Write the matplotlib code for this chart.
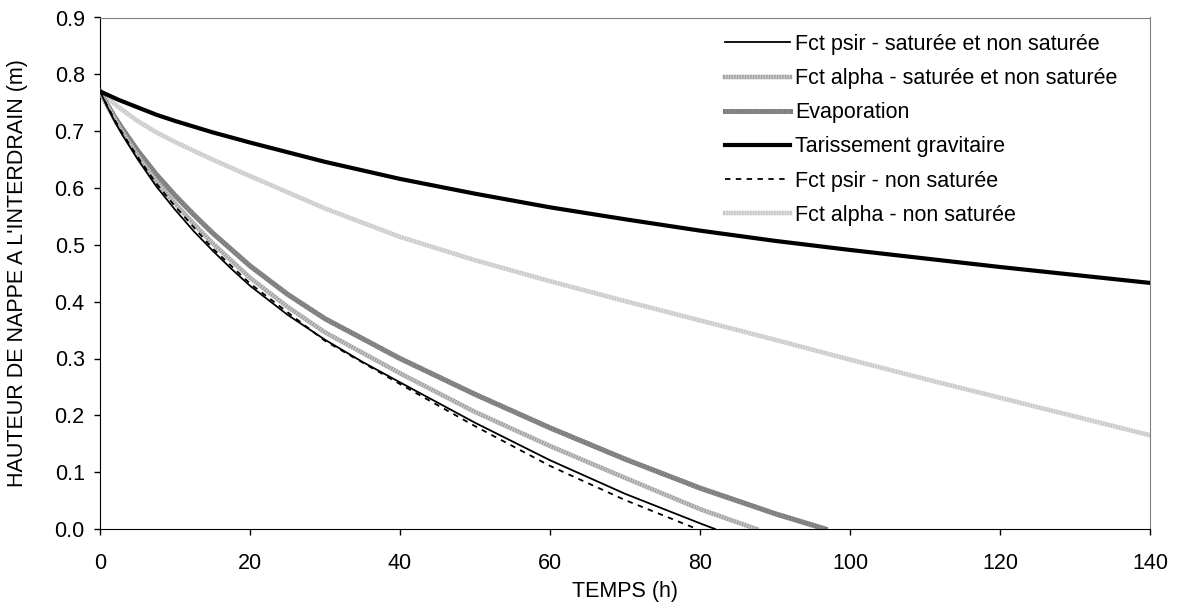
import numpy as np
import matplotlib
matplotlib.use('Agg')
import matplotlib.pyplot as plt
from matplotlib.legend_handler import HandlerTuple

plt.rcParams['font.family'] = ['Liberation Sans', 'DejaVu Sans']
plt.rcParams['font.size'] = 15.5

# Fct psir - saturee et non saturee
t_psir = [0, 1, 2, 3, 5, 7.5, 10, 12.5, 15, 17.5, 20, 25, 30, 35, 40, 50, 60, 70, 80, 82]
h_psir = [0.770, 0.742, 0.716, 0.693, 0.651, 0.603, 0.562, 0.524, 0.490, 0.458, 0.428, 0.377, 0.333, 0.294, 0.258, 0.187, 0.121, 0.062, 0.010, 0.0]

# Fct alpha - saturee et non saturee
t_alpha = [0, 1, 2, 3, 5, 7.5, 10, 12.5, 15, 20, 25, 30, 40, 50, 60, 70, 80, 87.5]
h_alpha = [0.770, 0.744, 0.720, 0.698, 0.657, 0.612, 0.573, 0.537, 0.503, 0.442, 0.391, 0.346, 0.274, 0.206, 0.146, 0.090, 0.035, 0.0]

# Evaporation
t_evap = [0, 1, 2, 3, 5, 7.5, 10, 12.5, 15, 20, 25, 30, 40, 50, 60, 70, 80, 90, 96.7]
h_evap = [0.770, 0.746, 0.724, 0.704, 0.666, 0.624, 0.587, 0.553, 0.521, 0.463, 0.413, 0.370, 0.300, 0.237, 0.178, 0.123, 0.072, 0.027, 0.0]

# Tarissement gravitaire
t_grav = [0, 2.5, 5, 7.5, 10, 15, 20, 30, 40, 50, 60, 70, 80, 90, 100, 110, 120, 130, 140]
h_grav = [0.770, 0.755, 0.742, 0.729, 0.718, 0.698, 0.680, 0.646, 0.616, 0.590, 0.566, 0.545, 0.525, 0.507, 0.491, 0.476, 0.461, 0.447, 0.433]

# Fct psir - non saturee
t_psir_ns = [0, 1, 2, 3, 5, 7.5, 10, 15, 20, 30, 40, 50, 60, 70, 79.6]
h_psir_ns = [0.770, 0.744, 0.719, 0.696, 0.655, 0.608, 0.568, 0.494, 0.432, 0.331, 0.255, 0.181, 0.111, 0.051, 0.0]

# Fct alpha - non saturee
t_alpha_ns = [0, 2.5, 5, 7.5, 10, 15, 20, 30, 40, 50, 60, 70, 80, 90, 100, 110, 120, 130, 140]
h_alpha_ns = [0.770, 0.742, 0.718, 0.698, 0.681, 0.650, 0.621, 0.564, 0.514, 0.473, 0.436, 0.401, 0.367, 0.333, 0.298, 0.264, 0.231, 0.198, 0.165]

x_ticks = [0, 20, 40, 60, 80, 100, 120, 140]
y_ticks = [0.0, 0.1, 0.2, 0.3, 0.4, 0.5, 0.6, 0.7, 0.8, 0.9]

fig = plt.figure(figsize=(11.8, 6.09), dpi=100)
ax = fig.add_axes([100/1180, 1-529/609, 1050/1180, 511.5/609])

stripes = dict(ls=(0, (0.25, 0.35)), dash_capstyle='butt', solid_capstyle='butt')

l1, = ax.plot(t_psir, h_psir, color='black', lw=1.3, zorder=5)
l2a, = ax.plot(t_alpha, h_alpha, color='#a2a2a2', lw=3.2, zorder=3)
l2b, = ax.plot(t_alpha, h_alpha, color='#cfcfcf', lw=3.2, zorder=3, **stripes)
l3a, = ax.plot(t_evap, h_evap, color='#7c7c7c', lw=3.6, zorder=2)
l3b, = ax.plot(t_evap, h_evap, color='#8e8e8e', lw=3.6, zorder=2, **stripes)
l4, = ax.plot(t_grav, h_grav, color='black', lw=3.0, zorder=4)
l5, = ax.plot(t_psir_ns, h_psir_ns, color='black', lw=1.3, ls=(0, (3, 3)), zorder=6)
l6a, = ax.plot(t_alpha_ns, h_alpha_ns, color='#c8c8c8', lw=3.2, zorder=1)
l6b, = ax.plot(t_alpha_ns, h_alpha_ns, color='#e2e2e2', lw=3.2, zorder=1, **stripes)

ax.set_xlim(0, 140)
ax.set_ylim(0, 0.9)
ax.set_xticks(x_ticks)
ax.set_yticks(y_ticks)
ax.set_yticklabels(['%.1f' % v for v in y_ticks])
ax.tick_params(direction='out', length=4, width=1)
ax.tick_params(axis='x', pad=13)
ax.tick_params(axis='y', pad=7)

ax.spines['left'].set_color('black')
ax.spines['bottom'].set_color('black')
ax.spines['top'].set_color('#808080')
ax.spines['right'].set_color('#808080')

ax.set_xlabel('TEMPS (h)', va='center')
ax.set_ylabel("HAUTEUR DE NAPPE A L'INTERDRAIN (m)", va='center')
ax.xaxis.set_label_coords(0.5, -(592-529)/511.5)
ax.yaxis.set_label_coords((18-100)/1050, 0.5)

handles = [l1, (l2a, l2b), (l3a, l3b), l4, l5, (l6a, l6b)]
labels = ['Fct psir - saturée et non saturée', 'Fct alpha - saturée et non saturée', 'Evaporation',
          'Tarissement gravitaire', 'Fct psir - non saturée', 'Fct alpha - non saturée']
ax.legend(handles, labels, handler_map={tuple: HandlerTuple(ndivide=1, pad=0)},
          loc='upper left', bbox_to_anchor=(725/1180, 1-34/609), bbox_transform=fig.transFigure,
          frameon=False, borderpad=0, handlelength=3.0, handletextpad=0.25, labelspacing=0.61,
          borderaxespad=0)

fig.savefig('out.png', dpi=100)
